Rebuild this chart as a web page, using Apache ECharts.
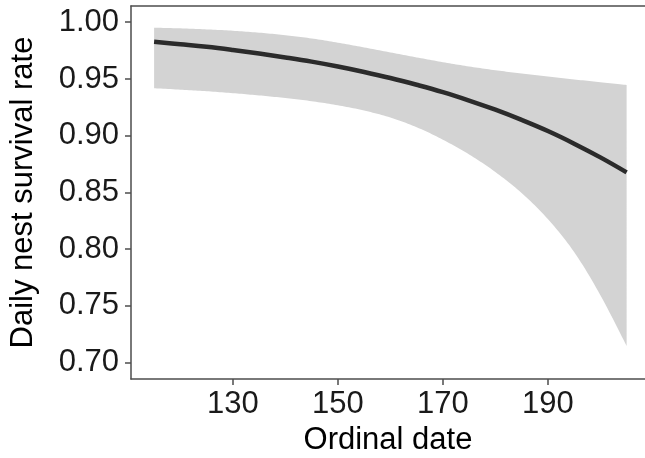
<!DOCTYPE html>
<html>
<head>
<meta charset="utf-8">
<script src="https://cdn.jsdelivr.net/npm/echarts@6/dist/echarts.min.js"></script>
<style>
html,body{margin:0;padding:0;background:#fff;}
#c{width:645px;height:458px;}
</style>
</head>
<body>
<div id="c"></div>
<script>
// Ordinal dates
const dates = [115,120,125,130,135,140,145,150,155,160,165,170,175,180,185,190,195,200,205];
// Predicted daily nest survival rate
const meanRate = [0.9828,0.9806,0.9783,0.9755,0.9724,0.9690,0.9653,0.9610,0.9562,0.9509,0.9449,0.9384,0.9310,0.9229,0.9139,0.9041,0.8930,0.8809,0.8677];
// Upper confidence limit
const upperRate = [0.9952,0.9946,0.9937,0.9925,0.9908,0.9886,0.9857,0.9820,0.9778,0.9734,0.9690,0.9648,0.9610,0.9577,0.9548,0.9521,0.9496,0.9471,0.9447];
// Lower confidence limit
const lowerRate = [0.9418,0.9406,0.9392,0.9375,0.9355,0.9332,0.9304,0.9268,0.9222,0.9160,0.9075,0.8965,0.8835,0.8680,0.8495,0.8265,0.7975,0.7595,0.7147];
// Tick labels
const xTicks = [130,150,170,190];
const yTicks = [0.70,0.75,0.80,0.85,0.90,0.95,1.00];

const bandData = dates.map((d,i)=>[d, lowerRate[i], upperRate[i]]);
const lineData = dates.map((d,i)=>[d, meanRate[i]]);

const axisColor = '#4d4d4d';
const font = 'Liberation Sans, Arial, Helvetica, sans-serif';
const bandColor = '#d3d3d3';

// sample a Catmull-Rom spline through pixel points (rendering only)
function spline(pts, steps){
  const out = [];
  const n = pts.length;
  for(let i=0;i<n-1;i++){
    const p0 = pts[Math.max(i-1,0)], p1 = pts[i], p2 = pts[i+1], p3 = pts[Math.min(i+2,n-1)];
    const c1 = [p1[0]+(p2[0]-p0[0])/6, p1[1]+(p2[1]-p0[1])/6];
    const c2 = [p2[0]-(p3[0]-p1[0])/6, p2[1]-(p3[1]-p1[1])/6];
    for(let s=0;s<steps;s++){
      const t=s/steps, u=1-t;
      out.push([
        u*u*u*p1[0]+3*u*u*t*c1[0]+3*u*t*t*c2[0]+t*t*t*p2[0],
        u*u*u*p1[1]+3*u*u*t*c1[1]+3*u*t*t*c2[1]+t*t*t*p2[1]
      ]);
    }
  }
  out.push(pts[n-1]);
  return out;
}

const chart = echarts.init(document.getElementById('c'), null, {renderer:'canvas'});
chart.setOption({
  animation:false,
  backgroundColor:'#ffffff',
  grid:{left:131, top:6, right:0, bottom:79, outerBoundsMode:'none', containLabel:false},
  xAxis:[{
    type:'value', min:110.6, max:208.5, z:10,
    name:'Ordinal date', nameLocation:'middle', nameGap:42,
    nameTextStyle:{fontSize:31, color:'#000', fontFamily:font},
    axisLine:{show:true, lineStyle:{color:axisColor, width:1.5}},
    axisTick:{show:true, length:6, customValues:xTicks, lineStyle:{color:axisColor, width:1.5}},
    axisLabel:{customValues:xTicks, fontSize:31, color:'#1a1a1a', margin:10, fontFamily:font},
    splitLine:{show:false}
  },{
    type:'value', position:'top', min:110.6, max:208.5, z:10,
    axisLine:{show:true, lineStyle:{color:axisColor, width:1.5}},
    axisTick:{show:false}, axisLabel:{show:false}, splitLine:{show:false}
  }],
  yAxis:{
    type:'value', min:0.6856, max:1.0143, z:10,
    name:'Daily nest survival rate', nameLocation:'middle', nameGap:92,
    nameTextStyle:{fontSize:31, color:'#000', fontFamily:font},
    axisLine:{show:true, lineStyle:{color:axisColor, width:1.5}},
    axisTick:{show:true, length:6, customValues:yTicks, lineStyle:{color:axisColor, width:1.5}},
    axisLabel:{customValues:yTicks, fontSize:31, color:'#1a1a1a', margin:12, fontFamily:font,
      formatter:v=>v.toFixed(2)},
    splitLine:{show:false}
  },
  series:[{
    type:'custom',
    data:bandData,
    encode:{x:0, y:[1,2]},
    silent:true,
    renderItem:function(params, api){
      if(params.dataIndex !== 0) return null;
      const up = bandData.map(r=>api.coord([r[0], r[2]]));
      const lo = bandData.map(r=>api.coord([r[0], r[1]]));
      const pts = spline(up, 12).concat(spline(lo.slice().reverse(), 12));
      return {type:'polygon', shape:{points:pts}, style:{fill:bandColor}};
    },
    z:1
  },{
    type:'line',
    data:lineData,
    smooth:0.4,
    showSymbol:false,
    lineStyle:{color:'#2b2b2b', width:4.5, cap:'butt'},
    z:3
  }]
});
</script>
</body>
</html>
